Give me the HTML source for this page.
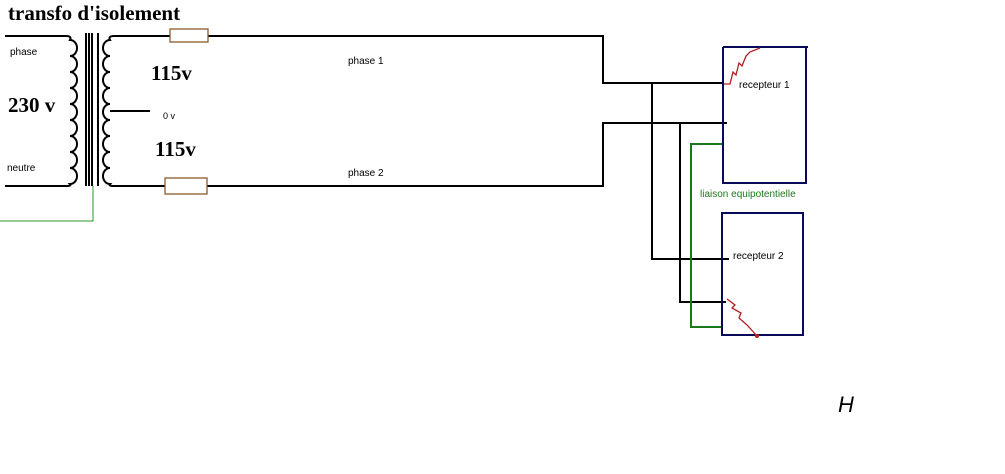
<!DOCTYPE html>
<html><head><meta charset="utf-8"><style>
html,body{margin:0;padding:0;background:#fff;}
svg{display:block;}
.s{font-family:"Liberation Sans",sans-serif;}
.b{font-family:"Liberation Serif",serif;font-weight:bold;font-size:21px;}
</style></head><body>
<svg width="1005" height="474" viewBox="0 0 1005 474" xmlns="http://www.w3.org/2000/svg">
<rect width="1005" height="474" fill="#fff"/>
<text x="8" y="20" class="b" style="font-size:21px">transfo d'isolement</text>
<g fill="none" stroke="#000" stroke-width="2">
<path d="M5 36 H66 Q72 36 70 40 a7 8 0 0 1 0 16 a7 8 0 0 1 0 16 a7 8 0 0 1 0 16 a7 8 0 0 1 0 16 a7 8 0 0 1 0 16 a7 8 0 0 1 0 16 a7 8 0 0 1 0 16 a7 8 0 0 1 0 16 a7 8 0 0 1 0 16 Q72 186 66 186 H5"/>
<path d="M120 36 H114 Q108 36 110 40 a7 8 0 0 0 0 16 a7 8 0 0 0 0 16 a7 8 0 0 0 0 16 a7 8 0 0 0 0 16 a7 8 0 0 0 0 16 a7 8 0 0 0 0 16 a7 8 0 0 0 0 16 a7 8 0 0 0 0 16 a7 8 0 0 0 0 16 Q108 186 114 186 H120"/>
<line x1="86" y1="33" x2="86" y2="186"/>
<line x1="89" y1="33" x2="89" y2="186"/>
<line x1="92" y1="33" x2="92" y2="186"/>
<line x1="98" y1="33" x2="98" y2="186"/>
<line x1="110" y1="111" x2="150" y2="111"/>
<path d="M115 36 H603 V83 H724"/>
<path d="M115 186 H603 V123 H727"/>
<path d="M652 83 V259 H729"/>
<path d="M680 123 V302 H726"/>
</g>
<path d="M93 186 V221 H0" fill="none" stroke="#2a9a2a" stroke-width="1"/>
<rect x="170" y="29" width="38" height="13" fill="#fff" stroke="#8b5a2b" stroke-width="1.3"/>
<rect x="165" y="178" width="42" height="16" fill="#fff" stroke="#8b5a2b" stroke-width="1.3"/>
<text x="10" y="55" font-size="10" class="s">phase</text>
<text x="7" y="171" font-size="10" class="s">neutre</text>
<text x="8" y="112" class="b">230 v</text>
<text x="151" y="80" class="b">115v</text>
<text x="155" y="156" class="b">115v</text>
<text x="163" y="119" font-size="9" class="s">0 v</text>
<text x="348" y="64" font-size="10" class="s">phase 1</text>
<text x="348" y="176" font-size="10" class="s">phase 2</text>
<path d="M722 144 H691 V327 H722" fill="none" stroke="#1a7a1a" stroke-width="2"/>
<text x="700" y="197" font-size="10" fill="#1a7a1a" class="s">liaison equipotentielle</text>
<g fill="none" stroke="#0a0a5a" stroke-width="2">
<path d="M723 47 H808 M806 47 V183 H723 V47"/>
<rect x="722" y="213" width="81" height="122"/>
</g>
<text x="739" y="88" font-size="10" class="s">recepteur 1</text>
<text x="733" y="259" font-size="10" class="s">recepteur 2</text>
<path d="M724 84 H730 L733 72 L736 75 L739 63 L742 66 L746 56 L750 52 L760 48" fill="none" stroke="#b02020" stroke-width="1.3"/>
<path d="M727 299 L735 305 L732 308 L741 313 L739 318 L747 325 L757 336" fill="none" stroke="#b02020" stroke-width="1.3"/>
<circle cx="757" cy="336" r="2" fill="#c02020"/>
<text x="838" y="412" font-size="22" font-style="italic" class="s">H</text>
</svg>
</body></html>
